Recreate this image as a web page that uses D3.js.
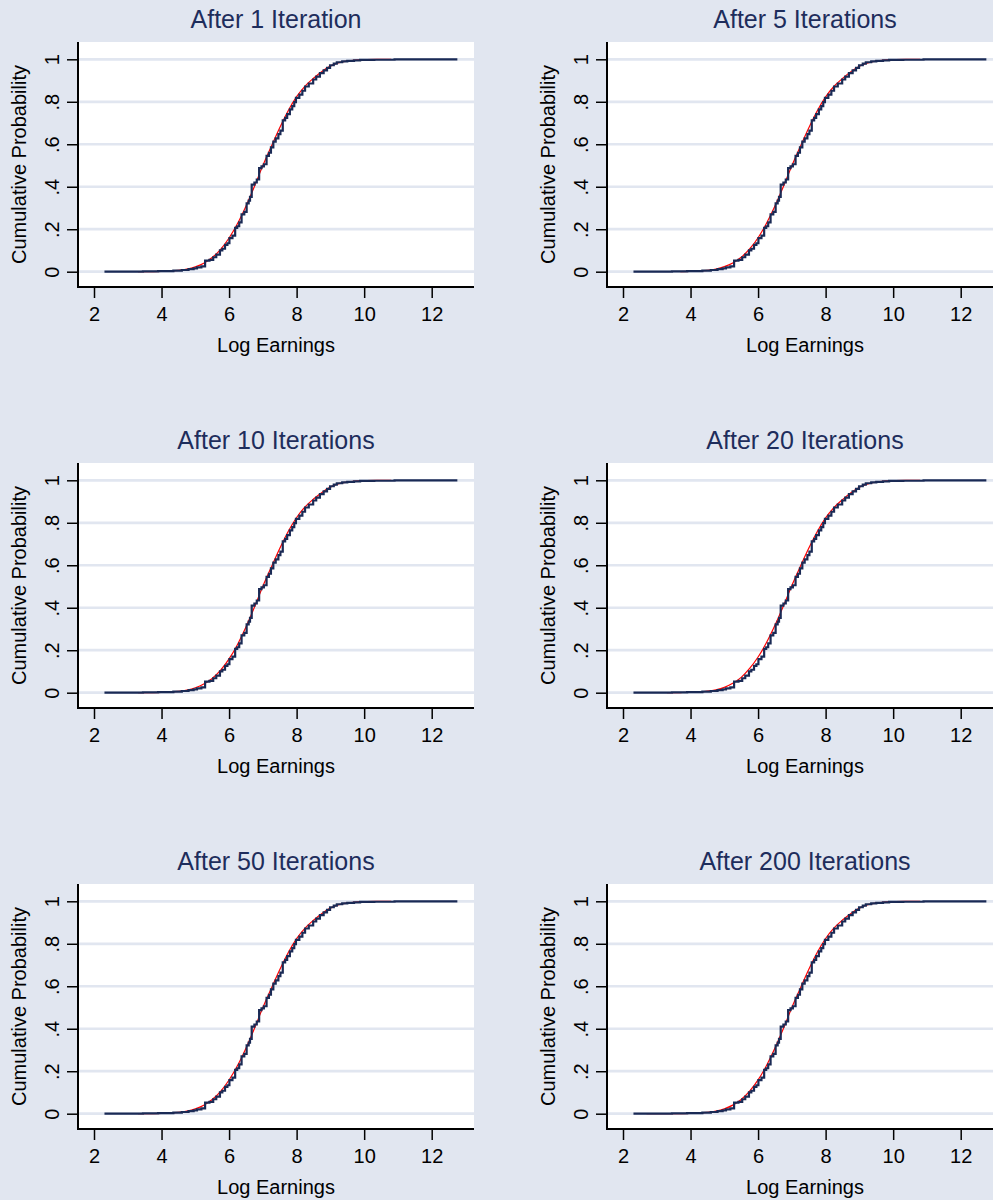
<!DOCTYPE html>
<html>
<head>
<meta charset="utf-8">
<script src="https://cdn.jsdelivr.net/npm/d3@7"></script>
<style>
  body { margin: 0; background: #e1e6f0; }
  text { font-family: Arial, "Liberation Sans", sans-serif; }
</style>
</head>
<body>
<div id="chart"></div>
<script>
// panel titles, in reading order
var titles = ["After 1 Iteration", "After 5 Iterations", "After 10 Iterations",
              "After 20 Iterations", "After 50 Iterations", "After 200 Iterations"];

var xTicks = [2, 4, 6, 8, 10, 12];
var yTicks = [0, 0.2, 0.4, 0.6, 0.8, 1];
var yTickLabels = ["0", ".2", ".4", ".6", ".8", "1"];

// empirical cdf of log earnings (step positions), same in every panel
var ecdfX = [2.31, 3.45, 3.90, 4.35, 4.60, 4.80, 4.95, 5.05, 5.18, 5.29, 5.42, 5.53, 5.62, 5.73,
             5.80, 5.88, 5.95, 6.01, 6.10, 6.18, 6.24, 6.30, 6.37, 6.45, 6.52, 6.58, 6.62, 6.67,
             6.75, 6.82, 6.89, 6.96, 7.03, 7.11, 7.18, 7.24, 7.31, 7.38, 7.46, 7.52, 7.59, 7.66,
             7.72, 7.80, 7.87, 7.93, 7.98, 8.08, 8.17, 8.25, 8.36, 8.49, 8.58, 8.69, 8.80, 8.90,
             8.99, 9.10, 9.19, 9.35, 9.50, 9.70, 9.88, 10.30, 10.90, 12.76];
var ecdfP = [0, 0.002, 0.003, 0.005, 0.008, 0.012, 0.016, 0.020, 0.025, 0.052, 0.056, 0.068, 0.080, 0.100,
             0.108, 0.126, 0.134, 0.158, 0.170, 0.206, 0.214, 0.232, 0.270, 0.282, 0.322, 0.335, 0.352, 0.410,
             0.420, 0.434, 0.488, 0.496, 0.506, 0.545, 0.560, 0.585, 0.612, 0.628, 0.648, 0.664, 0.712, 0.724,
             0.742, 0.764, 0.780, 0.798, 0.818, 0.834, 0.852, 0.872, 0.886, 0.905, 0.918, 0.935, 0.948, 0.960,
             0.972, 0.980, 0.986, 0.990, 0.993, 0.995, 0.997, 0.998, 1.000, 1.000];

// fitted (red) cdf, read at these x points; null = not drawn
var redX = [2.7, 3.0, 3.3, 3.7, 4.0, 4.25, 4.5, 4.75, 5.0, 5.25, 5.5, 5.75, 6.0, 6.25, 6.5, 6.75,
            7.0, 7.25, 7.5, 7.75, 8.0, 8.25, 8.5, 8.75, 9.0, 9.25, 9.5, 9.75, 10.0, 10.4, 10.8];
var red1 = [null, null, 0.0001, 0.0005, 0.0013, 0.003, 0.0062, 0.0122, 0.0228, 0.0401, 0.0668, 0.1056, 0.1587, 0.2266, 0.3085, 0.4013,
            0.500, 0.590, 0.678, 0.758, 0.824, 0.874, 0.911, 0.943, 0.968, 0.984, 0.992, 0.9965, 0.9985, 0.9996, 0.9999];
var red5 = [null, null, null, 0.0005, 0.0014, 0.0032, 0.0066, 0.0128, 0.0236, 0.041, 0.068, 0.107, 0.160, 0.228, 0.309, 0.401,
            0.499, 0.589, 0.677, 0.757, 0.823, 0.873, 0.910, 0.942, 0.967, 0.983, 0.992, 0.9965, 0.9985, 0.9996, 0.9999];
var red10 = [null, null, 0.0001, 0.0005, 0.0013, 0.003, 0.0063, 0.0124, 0.0231, 0.0405, 0.067, 0.106, 0.159, 0.227, 0.309, 0.402,
             0.501, 0.591, 0.679, 0.759, 0.825, 0.875, 0.912, 0.943, 0.968, 0.984, 0.992, 0.9965, 0.9985, 0.9996, 0.9999];
var red20 = [null, null, 0.0002, 0.0007, 0.0016, 0.0036, 0.0072, 0.0138, 0.025, 0.044, 0.072, 0.114, 0.168, 0.236, 0.317, 0.408,
             0.505, 0.594, 0.680, 0.758, 0.823, 0.872, 0.909, 0.941, 0.967, 0.983, 0.992, 0.9965, 0.9985, 0.9996, 0.9999];
var red50 = [null, null, 0.0001, 0.0005, 0.0013, 0.003, 0.0062, 0.0122, 0.0228, 0.0401, 0.0668, 0.1056, 0.1587, 0.2266, 0.3085, 0.4013,
             0.500, 0.590, 0.678, 0.758, 0.824, 0.874, 0.911, 0.943, 0.968, 0.984, 0.992, 0.9965, 0.9985, 0.9996, 0.9999];
var red200 = [0.00001, 0.00003, 0.0001, 0.0005, 0.0013, 0.003, 0.0063, 0.0123, 0.023, 0.0403, 0.067, 0.106, 0.159, 0.227, 0.309, 0.401,
              0.500, 0.590, 0.679, 0.759, 0.825, 0.875, 0.912, 0.943, 0.968, 0.984, 0.992, 0.9965, 0.9985, 0.9996, 0.9999];
var redSeries = [red1, red5, red10, red20, red50, red200];

var W = 993, H = 1200,
    colStep = 529, rowStep = 421,
    plot = {left: 78, right: 474, top: 42, bottom: 287};

var bg = "#e1e6f0", navy = "#1a2a55", titleColor = "#1e2d5c";

var svg = d3.select("#chart").append("svg")
    .attr("width", W).attr("height", H)
    .style("display", "block");

svg.append("rect").attr("width", W).attr("height", H).attr("fill", bg);

// shared scales (each panel is translated)
var x = d3.scaleLinear().domain([2, 12]).range([94, 431.7]);
var y = d3.scaleLinear().domain([0, 1]).range([271.7, 59.3]);

var ecdf = ecdfX.map(function(d, i){ return [d, ecdfP[i]]; });

var stepLine = d3.line()
    .x(function(d){ return x(d[0]); })
    .y(function(d){ return y(d[1]); })
    .curve(d3.curveStepAfter);

var smoothLine = d3.line()
    .defined(function(d){ return d[1] !== null; })
    .x(function(d){ return x(d[0]); })
    .y(function(d){ return y(d[1]); })
    .curve(d3.curveMonotoneX);

titles.forEach(function(t, i){
    var col = i % 2, row = Math.floor(i / 2);
    var g = svg.append("g")
        .attr("transform", "translate(" + (col * colStep) + "," + (row * rowStep) + ")");

    // title
    g.append("text")
        .attr("x", (plot.left + plot.right) / 2)
        .attr("y", 28)
        .attr("text-anchor", "middle")
        .attr("fill", titleColor)
        .style("font-size", "25px")
        .text(t);

    // plot region
    g.append("rect")
        .attr("x", plot.left).attr("y", plot.top)
        .attr("width", plot.right - plot.left)
        .attr("height", plot.bottom - plot.top)
        .attr("fill", "#fff");

    // gridlines
    g.selectAll(".grid").data(yTicks).enter().append("line")
        .attr("x1", plot.left).attr("x2", plot.right)
        .attr("y1", function(d){ return y(d); })
        .attr("y2", function(d){ return y(d); })
        .attr("stroke", bg)
        .attr("stroke-width", 2.7);

    // fitted curve then empirical steps on top
    var redPts = redX.map(function(d, k){ return [d, redSeries[i][k]]; });
    g.append("path")
        .attr("d", smoothLine(redPts))
        .attr("fill", "none")
        .attr("stroke", "#ff0000")
        .attr("stroke-width", 1.2);

    g.append("path")
        .attr("d", stepLine(ecdf))
        .attr("fill", "none")
        .attr("stroke", navy)
        .attr("stroke-width", 2.2);

    // y axis
    var yAxis = d3.axisLeft(y).tickValues(yTicks).tickSize(11).tickPadding(0)
        .tickFormat(function(d, k){ return yTickLabels[k]; });
    var ya = g.append("g").attr("transform", "translate(" + plot.left + ",0)").call(yAxis);
    ya.select(".domain").remove();
    ya.selectAll("line").attr("stroke", "#000").attr("stroke-width", 1.5);
    ya.selectAll("text")
        .attr("x", null).attr("dy", null)
        .attr("transform", "translate(-26,0) rotate(-90)")
        .attr("text-anchor", "middle")
        .attr("dy", "0.35em")
        .attr("fill", "#000")
        .style("font-size", "20px")
        .style("font-family", "Arial, 'Liberation Sans', sans-serif");

    // x axis
    var xAxis = d3.axisBottom(x).tickValues(xTicks).tickSize(11).tickPadding(9);
    var xa = g.append("g").attr("transform", "translate(0," + plot.bottom + ")").call(xAxis);
    xa.select(".domain").remove();
    xa.selectAll("line").attr("stroke", "#000").attr("stroke-width", 1.5);
    xa.selectAll("text")
        .attr("fill", "#000")
        .style("font-size", "20px")
        .style("font-family", "Arial, 'Liberation Sans', sans-serif");

    // axis lines
    g.append("path")
        .attr("d", "M" + plot.left + "," + plot.top + "V" + plot.bottom + "H" + plot.right)
        .attr("fill", "none")
        .attr("stroke", "#000")
        .attr("stroke-width", 2);

    // axis titles
    g.append("text")
        .attr("transform", "translate(26," + ((plot.top + plot.bottom) / 2) + ") rotate(-90)")
        .attr("text-anchor", "middle")
        .attr("fill", "#000")
        .style("font-size", "20px")
        .text("Cumulative Probability");

    g.append("text")
        .attr("x", (plot.left + plot.right) / 2)
        .attr("y", 352)
        .attr("text-anchor", "middle")
        .attr("fill", "#000")
        .style("font-size", "20px")
        .text("Log Earnings");
});
</script>
</body>
</html>
